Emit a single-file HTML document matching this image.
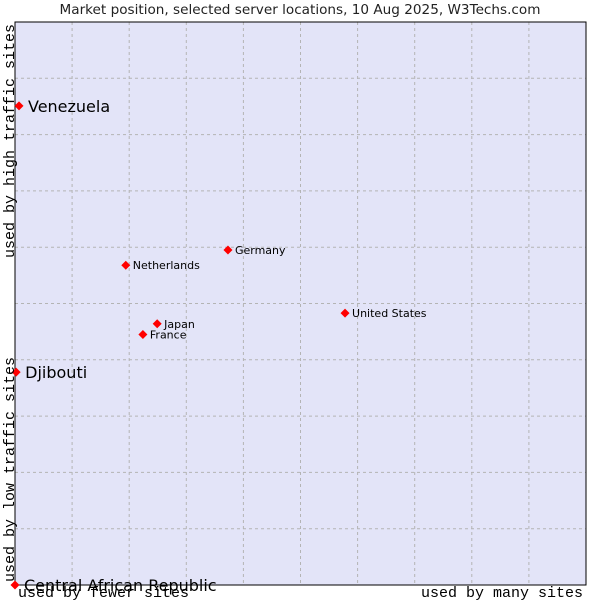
<!DOCTYPE html>
<html><head><meta charset="utf-8"><style>
body{margin:0;background:#fff;}
svg text{font-family:"DejaVu Sans","Liberation Sans",sans-serif;}
</style></head><body>
<svg width="600" height="600" xmlns="http://www.w3.org/2000/svg">
<text x="300" y="14" text-anchor="middle" font-size="13.6" fill="#222">Market position, selected server locations, 10 Aug 2025, W3Techs.com</text>
<rect x="15" y="22" width="571" height="563" fill="#e3e4f8"/>
<g id="grid"></g>
<rect x="15" y="22" width="571" height="563" fill="none" stroke="#000" stroke-width="1"/>
<g id="pts"></g>
<text transform="translate(14,258) rotate(-90)" font-size="15" fill="#000" style="font-family:'Liberation Mono',monospace">used by high traffic sites</text>
<text transform="translate(14,582) rotate(-90)" font-size="15" fill="#000" style="font-family:'Liberation Mono',monospace">used by low traffic sites</text>
<text x="18" y="597" font-size="15" fill="#000" style="font-family:'Liberation Mono',monospace">used by fewer sites</text>
<text x="583" y="597" text-anchor="end" font-size="15" fill="#000" style="font-family:'Liberation Mono',monospace">used by many sites</text>
<script>
const names=["Venezuela","Djibouti","Central African Republic","Netherlands","Germany","Japan","France","United States"];
const xs=[0.7,0.2,0,19.4,37.3,24.9,22.4,57.8];
const ys=[85.1,37.8,0,56.8,59.5,46.4,44.5,48.3];
const big=[true,true,true,false,false,false,false,false];
const NS="http://www.w3.org/2000/svg";
function sx(v){return 15+v*5.71;}
function sy(v){return 585-v*5.63;}
const grid=document.getElementById('grid');
for(let i=1;i<10;i++){
 const l=document.createElementNS(NS,'line');
 
 
 const x=15+i*57.1;
 l.setAttribute('x1',x);l.setAttribute('x2',x);l.setAttribute('y1',22);l.setAttribute('y2',585);
 l.setAttribute('stroke','#b4b4b4');l.setAttribute('stroke-dasharray','3,3');
 grid.appendChild(l);
 const h=document.createElementNS(NS,'line');
 
 
 const y=22+i*56.3;
 h.setAttribute('x1',15);h.setAttribute('x2',586);h.setAttribute('y1',y);h.setAttribute('y2',y);
 h.setAttribute('stroke','#b4b4b4');h.setAttribute('stroke-dasharray','3,3');
 grid.appendChild(h);
}
const pts=document.getElementById('pts');
names.forEach((n,i)=>{
 const x=sx(xs[i]),y=sy(ys[i]);
 const d=document.createElementNS(NS,'polygon');
 
 
 d.setAttribute('points',`${x},${y-4.5} ${x+4.5},${y} ${x},${y+4.5} ${x-4.5},${y}`);
 d.setAttribute('fill','#f00');
 pts.appendChild(d);
 const t=document.createElementNS(NS,'text');
 
 
 t.setAttribute('x',x+(big[i]?9:7));
 t.setAttribute('y',y+(big[i]?6:4));
 t.setAttribute('font-size',big[i]?16:11);
 t.setAttribute('fill','#000');
 t.textContent=n;
 pts.appendChild(t);
});
</script>
</svg>
</body></html>
